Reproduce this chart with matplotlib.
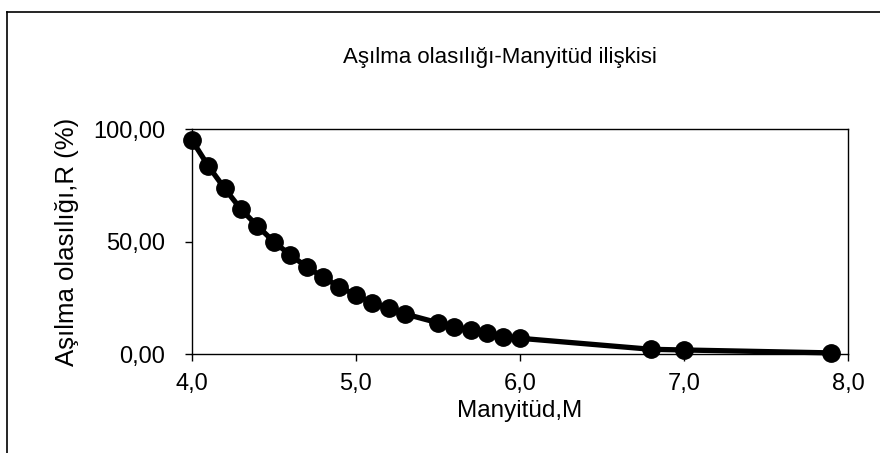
import matplotlib
matplotlib.use('Agg')
import matplotlib.pyplot as plt
from matplotlib.lines import Line2D
from matplotlib.ticker import FuncFormatter

plt.rcParams['font.family'] = ['Liberation Sans', 'DejaVu Sans']

# Manyitüd (M) and aşılma olasılığı R (%)
magnitude = [4.0, 4.1, 4.2, 4.3, 4.4, 4.5, 4.6, 4.7, 4.8, 4.9, 5.0, 5.1, 5.2, 5.3,
             5.5, 5.6, 5.7, 5.8, 5.9, 6.0, 6.8, 7.0, 7.9]
probability = [95.1, 83.6, 73.6, 64.3, 56.9, 49.9, 44.0, 38.8, 34.1, 29.9, 26.2, 22.8, 20.3, 17.8,
               13.9, 11.9, 10.7, 9.2, 7.7, 7.0, 2.1, 1.8, 0.5]

x_ticks = [4.0, 5.0, 6.0, 7.0, 8.0]
y_ticks = [0, 50, 100]

title = 'Aşılma olasılığı-Manyitüd ilişkisi'
x_label = 'Manyitüd,M'
y_label = 'Aşılma olasılığı,R (%)'

fig = plt.figure(figsize=(8.8, 4.53), dpi=100)
ax = fig.add_axes([0.218, 0.2185, 0.7455, 0.4967])

ax.plot(magnitude, probability, color='black', linewidth=3.8,
        marker='o', markersize=12.5, clip_on=False, zorder=3)

ax.set_xlim(4, 8)
ax.set_ylim(0, 100)
ax.set_xticks(x_ticks)
ax.set_yticks(y_ticks)
ax.xaxis.set_major_formatter(FuncFormatter(lambda v, p: f'{v:.1f}'.replace('.', ',')))
ax.yaxis.set_major_formatter(FuncFormatter(lambda v, p: f'{v:.2f}'.replace('.', ',')))
ax.tick_params(direction='out', length=5, width=1, labelsize=17)
ax.tick_params(axis='x', pad=9)
ax.tick_params(axis='y', pad=14)

for s in ax.spines.values():
    s.set_linewidth(1)
    s.set_color('black')

ax.set_xlabel(x_label, fontsize=17.5, labelpad=3)
ax.set_ylabel(y_label, fontsize=18.5, labelpad=10)
fig.text(0.568, 0.874, title, ha='center', va='center', fontsize=16)

# outer chart frame (top and left edges visible in the scan)
fig.add_artist(Line2D([0.008, 1.0], [0.974, 0.974], transform=fig.transFigure,
                      color='black', linewidth=1.2))
fig.add_artist(Line2D([0.008, 0.008], [0.0, 0.974], transform=fig.transFigure,
                      color='black', linewidth=1.2))

fig.savefig('out.png', dpi=100)
